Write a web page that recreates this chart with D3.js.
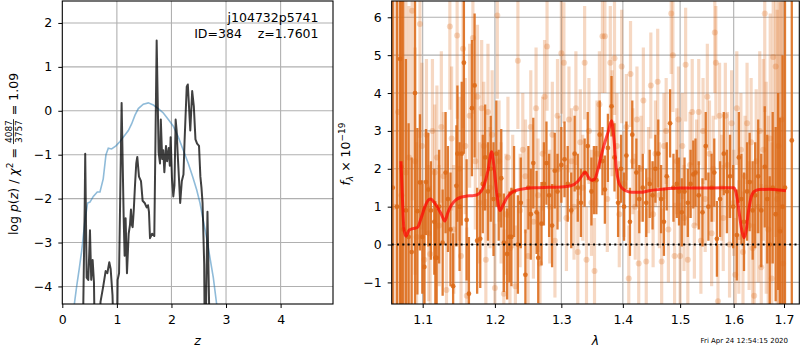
<!DOCTYPE html>
<html>
<head>
<meta charset="utf-8">
<script src="https://cdn.jsdelivr.net/npm/d3@7"></script>
<style>
body { margin: 0; background: #fff; }
text { font-family: "DejaVu Sans", sans-serif; }
</style>
</head>
<body>
<div id="chart"></div>
<script>
//-------------------------------------------------------
// data
//-------------------------------------------------------
// left panel: log p(z) (black) and prior (blue)
const zBlack = [0.36, 0.385, 0.41, 0.42, 0.435, 0.446, 0.476, 0.495, 0.507, 0.53, 0.556, 0.58, 0.605, 0.66,
    0.70, 0.75, 0.794, 0.825, 0.861, 0.886, 0.92, 0.96, 1.0, 1.014, 1.04, 1.087, 1.124, 1.142, 1.16, 1.185,
    1.216, 1.24, 1.258, 1.275, 1.289, 1.31, 1.332, 1.355, 1.374, 1.405, 1.442, 1.472, 1.51, 1.546, 1.57,
    1.588, 1.607, 1.645, 1.686, 1.729, 1.765, 1.79, 1.805, 1.83, 1.85, 1.87, 1.90, 1.92, 1.95, 1.97, 1.985,
    2.01, 2.034, 2.055, 2.077, 2.095, 2.115, 2.14, 2.16, 2.19, 2.22, 2.24, 2.28, 2.30, 2.345, 2.38, 2.41,
    2.44, 2.47, 2.505, 2.53, 2.55, 2.57, 2.60, 2.615, 2.635, 2.66, 2.69, 2.71];
const lnpBlack = [-6, -4.4, -2.2, -0.98, -2.6, -3.8, -3.85, -3.2, -2.72, -3.85, -3.4, -3.9, -6, -6,
    -4.35, -4.0, -3.65, -3.7, -3.45, -3.6, -4.2, -6, -6, -3.85, -3.7, 0.18, -2.4, -3.3, -2.45, -3.7,
    -2.8, -2.6, -2.25, -2.6, -2.65, -2.25, -1.7, -1.2, -1.05, -1.5, -1.6, -2.05, -2.1, -2.2, -2.15,
    -2.3, -2.9, -2.8, -2.85, 1.6, -0.95, -1.2, -0.2, -1.1, -0.9, -1.4, -0.8, -1.15, -0.85, -1.25, -0.6,
    -1.55, -1.95, -1.7, -0.2, -0.45, -1.0, -1.6, -2.1, -1.6, -1.45, -0.7, 0.55, 0.6, -0.45, 0.45, 0.1,
    -0.65, -0.75, -0.8, -1.5, -1.75, -2.1, -3.5, -6, -4.4, -2.3, -4.4, -6];
const zPrior = [0.2, 0.263, 0.31, 0.354, 0.415, 0.464, 0.507, 0.568, 0.641, 0.69, 0.75, 0.80, 0.843, 0.904,
    0.983, 1.057, 1.148, 1.21, 1.27, 1.332, 1.393, 1.484, 1.576, 1.668, 1.759, 1.851, 1.943, 2.034, 2.126,
    2.217, 2.309, 2.389, 2.462, 2.523, 2.584, 2.645, 2.706, 2.767, 2.828, 2.86];
const lnpPrior = [-4.6, -4.0, -3.6, -3.2, -2.5, -2.1, -2.08, -1.95, -1.85, -1.85, -1.55, -1.0, -0.85, -0.87,
    -0.8, -0.7, -0.55, -0.45, -0.3, -0.1, 0.05, 0.15, 0.18, 0.13, 0.05, -0.05, -0.2, -0.35, -0.6,
    -0.9, -1.2, -1.5, -1.8, -2.1, -2.5, -2.9, -3.35, -3.8, -4.4, -4.7];

// right panel: [lambda, flux, error]
const binnedSpec = [
    [1.061, 1.5, 9], [1.0665, 1.0, 9], [1.0705, 4.9, 9], [1.0722, 2.05, 9], [1.0745, 0.4, 8], [1.078, 0.9, 4],
    [1.0815, 0.2, 3], [1.0855, -0.2, 2.5], [1.0899, 4.0, 6], [1.093, 0.88, 2.2], [1.0964, 1.64, 1.8],
    [1.0995, 0.2, 1.5], [1.1022, -0.59, 1.6], [1.1044, 1.65, 1.4], [1.1075, 1.45, 1.5], [1.111, 0.9, 1.3],
    [1.1155, 0.6, 1.4], [1.1169, -0.35, 1.5], [1.1187, -0.35, 1.3], [1.122, 1.0, 1.5], [1.1268, 0.05, 1.4],
    [1.1308, 1.9, 1.6], [1.134, 1.2, 1.4], [1.1375, 0.4, 1.5], [1.1411, -1.1, 1.4], [1.1456, 1.55, 1.6],
    [1.147, 2.4, 1.8], [1.150, 1.0, 1.7], [1.153, 2.4, 1.9], [1.156, 4.8, 2.4], [1.1598, 0.65, 1.6],
    [1.163, -1.3, 1.5], [1.1672, 3.6, 1.8], [1.171, 4.2, 1.9], [1.1746, 0.1, 1.4], [1.179, 0.15, 1.3],
    [1.1826, 1.6, 1.3], [1.186, 2.3, 1.4], [1.190, 1.4, 1.3], [1.194, 2.0, 1.4], [1.198, 1.2, 1.5],
    [1.2021, 2.4, 1.4], [1.2055, 1.3, 1.2], [1.2092, 1.75, 1.3], [1.213, 0.05, 1.3], [1.2178, -0.25, 1.2],
    [1.2212, 0.2, 1.2], [1.2241, 0.2, 1.3], [1.228, 1.4, 1.2], [1.2337, 0.0, 1.3], [1.238, 1.1, 1.2],
    [1.2449, -0.8, 1.2], [1.2494, 1.5, 1.1], [1.253, 0.8, 1.2], [1.2568, 2.15, 1.2], [1.2618, 0.85, 1.1],
    [1.2643, -0.35, 1.2], [1.2693, 0.55, 1.1], [1.273, 1.6, 1.1], [1.2769, 2.15, 1.1], [1.281, 1.3, 1.1],
    [1.2856, 0.5, 1.1], [1.2897, 1.95, 1.0], [1.294, 1.4, 1.0], [1.300, 2.1, 1.0], [1.305, 2.25, 1.0],
    [1.310, 1.6, 1.0], [1.3156, 0.9, 1.0], [1.321, 2.4, 1.0], [1.326, 1.5, 0.9], [1.331, 1.1, 0.9],
    [1.337, 1.9, 0.9], [1.342, 2.6, 0.9], [1.348, 1.4, 0.9], [1.352, 1.7, 0.9], [1.356, 1.7, 0.9],
    [1.3615, 2.9, 0.9], [1.366, 2.2, 0.9], [1.370, 1.45, 0.9], [1.375, 2.55, 0.9], [1.381, 3.65, 0.8],
    [1.386, 2.3, 0.9], [1.392, 1.1, 0.9], [1.397, 2.0, 0.9], [1.402, 1.0, 0.9], [1.406, 2.35, 0.9],
    [1.412, 0.6, 0.9], [1.416, 2.9, 0.9], [1.423, 1.9, 0.9], [1.428, 1.2, 0.9], [1.434, 1.5, 0.9],
    [1.440, 1.1, 0.9], [1.446, 1.6, 0.9], [1.451, 1.3, 0.9], [1.456, 2.0, 0.9], [1.461, 2.4, 0.9],
    [1.466, 1.2, 0.9], [1.471, 0.6, 0.9], [1.476, 1.8, 0.9], [1.482, 3.2, 0.9], [1.488, 1.5, 0.9],
    [1.494, 1.6, 0.9], [1.498, 1.4, 0.9], [1.503, 0.85, 0.9], [1.508, 1.4, 0.9], [1.514, 1.1, 0.9],
    [1.519, 1.6, 0.9], [1.524, 1.85, 0.9], [1.528, 1.9, 0.9], [1.534, 1.3, 0.9], [1.541, 0.85, 0.9],
    [1.547, 2.6, 0.9], [1.552, 1.0, 0.9], [1.558, 1.5, 0.9], [1.563, 1.9, 0.9], [1.568, 0.15, 1.0],
    [1.574, 1.2, 1.0], [1.581, 2.4, 1.1], [1.587, 1.4, 1.1], [1.593, 1.8, 1.1], [1.599, 1.0, 1.1],
    [1.606, 0.25, 1.2], [1.610, 2.3, 1.2], [1.615, 1.2, 1.2], [1.620, 0.6, 1.3], [1.626, 1.4, 1.3],
    [1.631, 1.65, 1.3], [1.637, 0.9, 1.3], [1.642, 1.3, 1.4], [1.648, 1.8, 1.5], [1.654, 0.9, 1.5],
    [1.661, 2.05, 1.6], [1.666, 1.2, 1.7], [1.671, 0.0, 1.8], [1.677, 1.5, 2.0], [1.683, 0.8, 2.3],
    [1.688, 1.4, 2.6], [1.692, 0.35, 3.0], [1.697, 1.0, 4.0], [1.702, 1.5, 5.0], [1.716, 2.75, 10]
];
const rawSpec = [
    [1.063, 1.0, 9], [1.068, 3.5, 9], [1.0722, 1.3, 8], [1.078, 1.9, 6], [1.082, 2.3, 4], [1.0862, 6.17, 5],
    [1.090, 2.2, 3], [1.092, 0.2, 2.5], [1.0964, 5.82, 3], [1.099, 2.6, 2.2], [1.1022, -0.4, 2.0],
    [1.105, 2.9, 2.0], [1.108, 0.3, 1.8], [1.110, -0.25, 1.8], [1.113, 3.0, 1.9], [1.116, 1.9, 1.8],
    [1.119, 2.3, 1.9], [1.122, 0.5, 1.6], [1.125, 3.1, 2.0], [1.128, 1.8, 1.7], [1.132, -1.2, 1.8],
    [1.1366, 5.76, 2.2], [1.139, 2.8, 1.9], [1.142, 0.4, 1.7], [1.1466, 5.52, 2.2], [1.150, 2.0, 1.9],
    [1.152, -0.3, 1.7], [1.1548, 5.17, 2.1], [1.158, 2.6, 1.8], [1.160, -1.35, 1.8], [1.164, 3.4, 1.9],
    [1.1686, 5.45, 2.0], [1.172, 2.2, 1.8], [1.175, 3.9, 1.9], [1.178, 1.1, 1.6], [1.181, 3.6, 1.8],
    [1.184, 2.6, 1.7], [1.187, -0.4, 1.6], [1.190, 3.5, 1.8], [1.193, 1.5, 1.6], [1.196, 2.9, 1.7],
    [1.200, -1.15, 1.7], [1.2035, 6.05, 2.2], [1.206, 2.2, 1.6], [1.209, 1.1, 1.6], [1.213, -1.3, 1.7],
    [1.216, 0.8, 1.6], [1.219, 2.3, 1.6], [1.222, -0.1, 1.5], [1.226, 1.4, 1.5], [1.230, -1.1, 1.6],
    [1.2337, 4.85, 1.8], [1.237, 0.9, 1.5], [1.241, 2.5, 1.5], [1.245, 1.8, 1.5], [1.249, -0.3, 1.5],
    [1.253, 3.1, 1.5], [1.257, 0.6, 1.5], [1.261, 3.6, 1.6], [1.264, 1.3, 1.5], [1.267, -0.5, 1.5],
    [1.271, 2.4, 1.5], [1.274, 3.9, 1.5], [1.2778, 5.23, 1.7], [1.282, 1.0, 1.5], [1.286, 2.9, 1.4],
    [1.290, 0.1, 1.5], [1.294, 3.4, 1.5], [1.297, 2.0, 1.4], [1.300, 5.05, 1.6], [1.304, 4.8, 1.6],
    [1.308, 0.7, 1.4], [1.312, 3.3, 1.4], [1.316, 2.2, 1.4], [1.320, 1.0, 1.4], [1.323, 3.6, 1.5],
    [1.326, -0.2, 1.4], [1.330, 2.7, 1.4], [1.334, 1.5, 1.4], [1.337, 4.8, 1.5], [1.340, -0.4, 1.4],
    [1.344, 3.0, 1.4], [1.348, 1.1, 1.4], [1.353, -0.7, 1.4], [1.357, 2.4, 1.4], [1.361, 3.7, 1.4],
    [1.366, 5.5, 1.5], [1.370, 5.5, 1.5], [1.374, 1.2, 1.4], [1.379, 4.8, 1.5], [1.382, 3.2, 1.4],
    [1.386, 4.92, 1.5], [1.390, 2.6, 1.4], [1.394, 0.8, 1.4], [1.398, 4.7, 1.5], [1.402, 1.6, 1.4],
    [1.406, 3.1, 1.4], [1.410, -0.9, 1.4], [1.413, 4.5, 1.4], [1.417, 2.2, 1.4], [1.421, 1.0, 1.4],
    [1.424, 3.3, 1.4], [1.427, -0.5, 1.4], [1.431, 2.0, 1.4], [1.435, 3.8, 1.4], [1.440, -0.45, 1.4],
    [1.444, 1.7, 1.4], [1.448, 4.2, 1.4], [1.452, 0.8, 1.4], [1.456, 2.4, 1.4], [1.460, 4.3, 1.4],
    [1.463, 1.3, 1.4], [1.467, -0.45, 1.4], [1.471, 2.6, 1.4], [1.475, 3.0, 1.4], [1.479, 0.4, 1.4],
    [1.484, 6.1, 1.6], [1.487, 5.0, 1.5], [1.490, -0.3, 1.4], [1.494, 2.2, 1.4], [1.497, 3.3, 1.4],
    [1.500, -0.3, 1.4], [1.504, 2.6, 1.4], [1.507, 0.7, 1.4], [1.510, 4.75, 1.5], [1.514, -0.4, 1.4],
    [1.518, 2.1, 1.4], [1.522, 3.5, 1.4], [1.526, 0.5, 1.4], [1.530, 1.9, 1.4], [1.534, 3.5, 1.4],
    [1.538, 0.1, 1.4], [1.542, 3.0, 1.4], [1.546, 1.2, 1.4], [1.550, 3.9, 1.4], [1.554, 2.4, 1.4],
    [1.558, 0.3, 1.4], [1.561, 2.0, 1.4], [1.564, 5.6, 1.6], [1.566, 4.8, 1.5], [1.570, -1.5, 1.5],
    [1.573, 3.4, 1.4], [1.577, 1.5, 1.4], [1.580, 0.7, 1.4], [1.584, 3.4, 1.4], [1.588, 2.1, 1.4],
    [1.592, 0.0, 1.4], [1.596, 3.2, 1.4], [1.600, 1.1, 1.4], [1.603, -0.8, 1.5], [1.606, 3.6, 1.5],
    [1.610, 0.2, 1.5], [1.614, 2.5, 1.5], [1.618, -0.2, 1.6], [1.622, 1.8, 1.6], [1.626, 3.2, 1.6],
    [1.630, 0.5, 1.7], [1.634, 2.7, 1.7], [1.637, -0.1, 1.8], [1.640, -1.35, 1.9], [1.644, 2.2, 1.9],
    [1.648, 1.0, 2.0], [1.651, 3.0, 2.1], [1.654, -0.6, 2.2], [1.658, 2.5, 2.4], [1.661, 6.1, 2.6],
    [1.664, 1.5, 2.8], [1.668, 0.4, 3.0], [1.672, 2.8, 3.3], [1.675, -0.9, 3.6], [1.678, 4.95, 4.0],
    [1.683, 4.7, 4.5], [1.686, 1.2, 5.0], [1.689, 2.6, 5.5], [1.692, 0.4, 6.0], [1.695, 3.3, 7.0],
    [1.698, -0.5, 8.0]
];
const modelLam = [1.0716, 1.0735, 1.0755, 1.078, 1.082, 1.087, 1.093, 1.098, 1.103, 1.108, 1.111, 1.115,
    1.12, 1.125, 1.1297, 1.134, 1.139, 1.145, 1.152, 1.16, 1.168, 1.175, 1.18, 1.185, 1.19, 1.1953, 1.199,
    1.203, 1.2074, 1.212, 1.218, 1.225, 1.233, 1.245, 1.26, 1.28, 1.3, 1.315, 1.325, 1.332, 1.338, 1.343,
    1.348, 1.353, 1.358, 1.364, 1.37, 1.376, 1.381, 1.385, 1.389, 1.393, 1.398, 1.405, 1.415, 1.43, 1.445,
    1.46, 1.48, 1.5, 1.54, 1.58, 1.6, 1.604, 1.608, 1.612, 1.616, 1.62, 1.624, 1.628, 1.633, 1.64, 1.65,
    1.67, 1.69, 1.704];
const modelFlux = [2.2, 1.2, 0.4, 0.22, 0.38, 0.42, 0.45, 0.7, 1.0, 1.18, 1.2, 1.12,
    0.98, 0.8, 0.62, 0.85, 1.05, 1.18, 1.25, 1.28, 1.29, 1.32, 1.4, 1.6, 1.95, 2.45, 2.0,
    1.3, 0.9, 1.05, 1.25, 1.38, 1.44, 1.48, 1.5, 1.51, 1.52, 1.55, 1.65, 1.8, 1.91, 1.78,
    1.7, 1.72, 1.95, 2.35, 2.7, 3.0, 3.27, 2.8, 2.0, 1.65, 1.5, 1.42, 1.38, 1.38, 1.42,
    1.45, 1.48, 1.49, 1.49, 1.5, 1.5, 1.4, 1.1, 0.7, 0.35, 0.18, 0.35, 0.8, 1.2, 1.4, 1.45,
    1.46, 1.44, 1.42];

// ticks
const zTicks = [0, 1, 2, 3, 4];
const lnpTicks = [-4, -3, -2, -1, 0, 1, 2];
const lamTicks = [1.1, 1.2, 1.3, 1.4, 1.5, 1.6, 1.7];
const fluxTicks = [-1, 0, 1, 2, 3, 4, 5, 6];

//-------------------------------------------------------
// layout
//-------------------------------------------------------
const props = {
    width: 800,
    height: 350,
    left: { x0: 62.3, x1: 333, y0: 1, y1: 304 },
    right: { x0: 391.7, x1: 799.3, y0: 1, y1: 304 },
    color: {
        grid: "#b0b0b0",
        black: "#000000",
        prior: "#1f77b4",
        orange: "#dc6a18",
        model: "#ff0000"
    },
    font: 12.5,
    small: 9
};

const svg = d3.select("#chart")
    .append("svg")
    .attr("width", props.width)
    .attr("height", props.height);

const defs = svg.append("defs");
[["clipL", props.left], ["clipR", props.right]].forEach(([id, b]) => {
    defs.append("clipPath").attr("id", id)
        .append("rect")
        .attr("x", b.x0).attr("y", b.y0)
        .attr("width", b.x1 - b.x0).attr("height", b.y1 - b.y0);
});

// scales
const xL = d3.scaleLinear().domain([0, 4.96]).range([props.left.x0, props.left.x1]);
const yL = d3.scaleLinear().domain([-4.4, 2.5]).range([props.left.y1, props.left.y0]);
const xR = d3.scaleLog().domain([1.0597, 1.7316]).range([props.right.x0, props.right.x1]);
const yR = d3.scaleLinear().domain([-1.57, 6.43]).range([props.right.y1, props.right.y0]);

// grid helper
function drawGrid(g, xs, ys, xt, yt, b) {
    g.selectAll(".gx").data(xt).enter().append("line")
        .attr("x1", d => xs(d)).attr("x2", d => xs(d))
        .attr("y1", b.y0).attr("y2", b.y1)
        .attr("stroke", props.color.grid).attr("stroke-width", 1.1);
    g.selectAll(".gy").data(yt).enter().append("line")
        .attr("x1", b.x0).attr("x2", b.x1)
        .attr("y1", d => ys(d)).attr("y2", d => ys(d))
        .attr("stroke", props.color.grid).attr("stroke-width", 1.1);
}

// axes helper
function drawAxes(xs, ys, xt, yt, b, xfmt, yfmt) {
    const ax = svg.append("g")
        .attr("transform", `translate(0,${b.y1})`)
        .call(d3.axisBottom(xs).tickValues(xt).tickFormat(xfmt).tickSize(4).tickPadding(7).tickSizeOuter(0));
    const ay = svg.append("g")
        .attr("transform", `translate(${b.x0},0)`)
        .call(d3.axisLeft(ys).tickValues(yt).tickFormat(yfmt).tickSize(4).tickPadding(6).tickSizeOuter(0));
    [ax, ay].forEach(a => {
        a.select(".domain").remove();
        a.selectAll("text").attr("font-family", "DejaVu Sans").attr("font-size", props.font).attr("fill", "#000");
        a.selectAll("line").attr("stroke", "#000").attr("stroke-width", 1);
    });
    svg.append("rect")
        .attr("x", b.x0).attr("y", b.y0)
        .attr("width", b.x1 - b.x0).attr("height", b.y1 - b.y0)
        .attr("fill", "none").attr("stroke", "#000").attr("stroke-width", 1.1);
}

//-------------------------------------------------------
// left panel
//-------------------------------------------------------
const gL = svg.append("g");
drawGrid(gL, xL, yL, zTicks.slice(1), lnpTicks, props.left);

const plotL = svg.append("g").attr("clip-path", "url(#clipL)");
const lineL = d3.line().x(d => xL(d[0])).y(d => yL(d[1]));

plotL.append("path")
    .datum(zPrior.map((z, i) => [z, lnpPrior[i]]))
    .attr("d", lineL)
    .attr("fill", "none")
    .attr("stroke", props.color.prior)
    .attr("stroke-opacity", 0.5)
    .attr("stroke-width", 1.6);

plotL.append("path")
    .datum(zBlack.map((z, i) => [z, lnpBlack[i]]))
    .attr("d", lineL)
    .attr("fill", "none")
    .attr("stroke", props.color.black)
    .attr("stroke-opacity", 0.75)
    .attr("stroke-width", 2)
    .attr("stroke-linejoin", "round");

drawAxes(xL, yL, zTicks, lnpTicks, props.left, d3.format("d"), d3.format("d"));

// object labels
svg.append("text").attr("x", 318.5).attr("y", 21.5).attr("text-anchor", "end")
    .attr("font-size", props.font).text("j104732p5741");
svg.append("text").attr("x", 318.5).attr("y", 37.5).attr("text-anchor", "end")
    .attr("font-size", props.font).attr("xml:space", "preserve").text("ID=384    z=1.7601");

// x label
svg.append("text").attr("x", (props.left.x0 + props.left.x1) / 2).attr("y", 345)
    .attr("text-anchor", "middle").attr("font-size", props.font).attr("font-style", "italic").text("z");

// y label with the fraction
const yLab = svg.append("g");
const t1 = yLab.append("text").attr("font-size", props.font).attr("xml:space", "preserve");
t1.append("tspan").text("log ");
t1.append("tspan").attr("font-style", "italic").text("p");
t1.append("tspan").text("(");
t1.append("tspan").attr("font-style", "italic").text("z");
t1.append("tspan").text(") / ");
t1.append("tspan").attr("font-style", "italic").text("χ");
t1.append("tspan").attr("font-size", props.small).attr("dy", -5).text("2");
t1.append("tspan").attr("dy", 5).text(" = ");
const w1 = t1.node().getComputedTextLength();
const num = yLab.append("text").attr("font-size", props.small).attr("y", -5.5).text("4087");
const den = yLab.append("text").attr("font-size", props.small).attr("y", 4.8).text("3757");
const fw = Math.max(num.node().getComputedTextLength(), den.node().getComputedTextLength());
num.attr("x", w1 + 1);
den.attr("x", w1 + 1);
yLab.append("line").attr("x1", w1).attr("x2", w1 + fw + 2)
    .attr("y1", -4).attr("y2", -4).attr("stroke", "#000").attr("stroke-width", 0.8);
const t2 = yLab.append("text").attr("font-size", props.font).attr("xml:space", "preserve")
    .attr("x", w1 + fw + 2).text(" = 1.09");
const wTot = w1 + fw + 2 + t2.node().getComputedTextLength();
yLab.attr("transform", `translate(17.5,${154 + wTot / 2}) rotate(-90)`);

//-------------------------------------------------------
// right panel
//-------------------------------------------------------
const gR = svg.append("g");
drawGrid(gR, xR, yR, lamTicks, fluxTicks, props.right);

const plotR = svg.append("g").attr("clip-path", "url(#clipR)");

function drawSpec(data, opacity, barWidth, r) {
    const g = plotR.append("g");
    g.selectAll("line").data(data).enter().append("line")
        .attr("x1", d => xR(d[0])).attr("x2", d => xR(d[0]))
        .attr("y1", d => yR(d[1] - d[2])).attr("y2", d => yR(d[1] + d[2]))
        .attr("stroke", props.color.orange)
        .attr("stroke-opacity", opacity)
        .attr("stroke-width", barWidth);
    g.selectAll("circle").data(data).enter().append("circle")
        .attr("cx", d => xR(d[0])).attr("cy", d => yR(d[1]))
        .attr("r", r)
        .attr("fill", props.color.orange)
        .attr("fill-opacity", opacity);
}

drawSpec(rawSpec, 0.26, 3.2, 3);
drawSpec(binnedSpec, 0.88, 2.3, 2.4);

plotR.append("path")
    .datum(modelLam.map((l, i) => [l, modelFlux[i]]))
    .attr("d", d3.line().curve(d3.curveMonotoneX).x(d => xR(d[0])).y(d => yR(d[1])))
    .attr("fill", "none")
    .attr("stroke", props.color.model)
    .attr("stroke-opacity", 0.7)
    .attr("stroke-width", 3)
    .attr("stroke-linejoin", "round");

// zero line
plotR.append("line")
    .attr("x1", props.right.x0).attr("x2", props.right.x1)
    .attr("y1", yR(0)).attr("y2", yR(0))
    .attr("stroke", "#000").attr("stroke-width", 2)
    .attr("stroke-dasharray", "2,3.3");

drawAxes(xR, yR, lamTicks, fluxTicks, props.right, d3.format(".1f"), d3.format("d"));

svg.append("text").attr("x", (props.right.x0 + props.right.x1) / 2).attr("y", 345)
    .attr("text-anchor", "middle").attr("font-size", props.font).attr("font-style", "italic").text("λ");

const yLabR = svg.append("g");
const tr = yLabR.append("text").attr("font-size", props.font).attr("xml:space", "preserve");
tr.append("tspan").attr("font-style", "italic").text("f");
tr.append("tspan").attr("font-style", "italic").attr("font-size", props.small).attr("dy", 3).text("λ");
tr.append("tspan").attr("dy", -3).text(" × 10");
tr.append("tspan").attr("font-size", props.small).attr("dy", -5).text("−19");
const wr = tr.node().getComputedTextLength();
yLabR.attr("transform", `translate(350,${154 + wr / 2}) rotate(-90)`);

// timestamp
svg.append("text").attr("x", 788).attr("y", 343).attr("text-anchor", "end")
    .attr("font-size", 7).text("Fri Apr 24 12:54:15 2020");
</script>
</body>
</html>
